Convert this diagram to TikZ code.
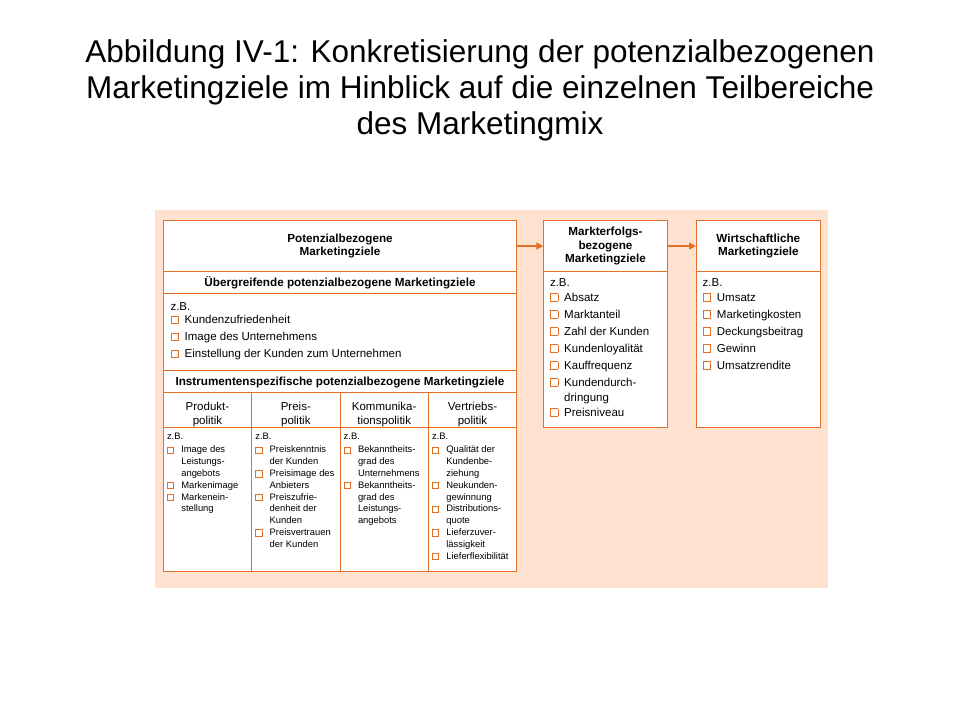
\documentclass[tikz,border=0pt]{standalone}
\usepackage{fontspec}
\setmainfont{Liberation Sans}
\usetikzlibrary{positioning,arrows.meta}
\definecolor{linie}{RGB}{228,112,40}
\definecolor{hinter}{RGB}{254,225,206}
\newcommand{\kbgap}{0.5em}
\newcommand{\kb}{{\color{linie}\fboxsep=0pt\fboxrule=0.9pt\fbox{\rule{0pt}{0.58em}\hspace{0.58em}}}\hspace{\kbgap}}
\newcommand{\weiter}{\phantom{\kb}}
\newcommand{\oben}{\rule{0pt}{16.5pt}}

\begin{document}
\begin{tikzpicture}[x=1pt,y=-1pt,
	zelle/.style={draw=linie, line width=1pt, fill=white, inner sep=0pt, outer sep=0pt},
	kopf/.style={zelle, align=center, font=\bfseries\fontsize{11.7}{13.8}\selectfont},
	spalte/.style={zelle, align=center, minimum width=88.35pt, font=\fontsize{11.5}{14}\selectfont},
	spaltenkopf/.style={spalte, minimum height=34.6pt},
	liste/.style={anchor=north west, inner sep=0pt, align=left, font=\fontsize{11.5}{17}\selectfont},
	kleinliste/.style={liste, font=\fontsize{9.4}{11.8}\selectfont, execute at begin node={\renewcommand{\kbgap}{0.75em}}},
	pfeil/.style={draw=linie, line width=1.3pt, -{Triangle[length=7pt,width=7pt]}}]
	\useasboundingbox (0,0) rectangle (960,720);
	\fill[hinter] (155,210) rectangle (828,588);
	\node[font=\fontsize{31.5}{36}\selectfont, align=center] (titel) at (480,90.5) {Abbildung IV-1: Konkretisierung der potenzialbezogenen\\Marketingziele im Hinblick auf die einzelnen Teilbereiche\\des Marketingmix};
	% potenzialbezogene Ziele
	\node[kopf, minimum width=353.4pt, minimum height=50.7pt] (pot) at (340,246.05) {Potenzialbezogene\\Marketingziele};
	\node[kopf, minimum width=353.4pt, minimum height=21.9pt, below=0pt of pot] (ueber) {Übergreifende potenzialbezogene Marketingziele};
	\node[zelle, minimum width=353.4pt, minimum height=77pt, below=0pt of ueber] (ueberBox) {};
	\node[kopf, minimum width=353.4pt, minimum height=22.4pt, below=0pt of ueberBox] (instr) {\rule{0pt}{10pt}Instrumentenspezifische potenzialbezogene Marketingziele};
	\node[liste] (ueberText) at ([xshift=7pt,yshift=-9pt]ueberBox.north west) {z.B.\\[-4pt]
		\kb Kundenzufriedenheit\\
		\kb Image des Unternehmens\\
		\kb Einstellung der Kunden zum Unternehmen};
	% Instrumente
	\node[spaltenkopf, below right=0pt of instr.south west] (prod) {\oben Produkt-\\politik};
	\node[spaltenkopf, right=0pt of prod] (preis) {\oben Preis-\\politik};
	\node[spaltenkopf, right=0pt of preis] (komm) {\oben Kommunika-\\tionspolitik};
	\node[spaltenkopf, right=0pt of komm] (vert) {\oben Vertriebs-\\politik};
	\node[spalte, minimum height=144.4pt, below=0pt of prod] (prodBox) {};
	\node[spalte, minimum height=144.4pt, below=0pt of preis] (preisBox) {};
	\node[spalte, minimum height=144.4pt, below=0pt of komm] (kommBox) {};
	\node[spalte, minimum height=144.4pt, below=0pt of vert] (vertBox) {};
	\node[kleinliste] (prodText) at ([xshift=3.5pt,yshift=-5.7pt]prodBox.north west) {z.B.\\[1.5pt]
		\kb Image des\\ \weiter Leistungs-\\ \weiter angebots\\
		\kb Markenimage\\
		\kb Markenein-\\ \weiter stellung};
	\node[kleinliste] (preisText) at ([xshift=3.5pt,yshift=-5.7pt]preisBox.north west) {z.B.\\[1.5pt]
		\kb Preiskenntnis\\ \weiter der Kunden\\
		\kb Preisimage des\\ \weiter Anbieters\\
		\kb Preiszufrie-\\ \weiter denheit der\\ \weiter Kunden\\
		\kb Preisvertrauen\\ \weiter der Kunden};
	\node[kleinliste] (kommText) at ([xshift=3.5pt,yshift=-5.7pt]kommBox.north west) {z.B.\\[1.5pt]
		\kb Bekanntheits-\\ \weiter grad des\\ \weiter Unternehmens\\
		\kb Bekanntheits-\\ \weiter grad des\\ \weiter Leistungs-\\ \weiter angebots};
	\node[kleinliste] (vertText) at ([xshift=3.5pt,yshift=-5.7pt]vertBox.north west) {z.B.\\[1.5pt]
		\kb Qualität der\\ \weiter Kundenbe-\\ \weiter ziehung\\
		\kb Neukunden-\\ \weiter gewinnung\\
		\kb Distributions-\\ \weiter quote\\
		\kb Lieferzuver-\\ \weiter lässigkeit\\
		\kb Lieferflexibilität};
	% Markterfolg und Wirtschaft
	\node[kopf, minimum width=124.4pt, minimum height=50.7pt] (markt) at (605.5,246.05) {Markterfolgs-\\bezogene\\Marketingziele};
	\node[zelle, minimum width=124.4pt, minimum height=156pt, below=0pt of markt] (marktBox) {};
	\node[kopf, minimum width=124.7pt, minimum height=50.7pt] (wirt) at (758.35,246.05) {Wirtschaftliche\\Marketingziele};
	\node[zelle, minimum width=124.7pt, minimum height=156pt, below=0pt of wirt] (wirtBox) {};
	\node[liste] (marktText) at ([xshift=6.5pt,yshift=-6.5pt]marktBox.north west) {z.B.\\[-2pt]
		\kb Absatz\\
		\kb Marktanteil\\
		\kb Zahl der Kunden\\
		\kb Kundenloyalität\\
		\kb Kauffrequenz\\
		\kb Kundendurch-\\[-2pt] \weiter dringung\\[-2pt]
		\kb Preisniveau};
	\node[liste] (wirtText) at ([xshift=6.5pt,yshift=-6.5pt]wirtBox.north west) {z.B.\\[-2pt]
		\kb Umsatz\\
		\kb Marketingkosten\\
		\kb Deckungsbeitrag\\
		\kb Gewinn\\
		\kb Umsatzrendite};
	\draw[pfeil] (pot) -- (markt);
	\draw[pfeil] (markt) -- (wirt);
\end{tikzpicture}
\end{document}
